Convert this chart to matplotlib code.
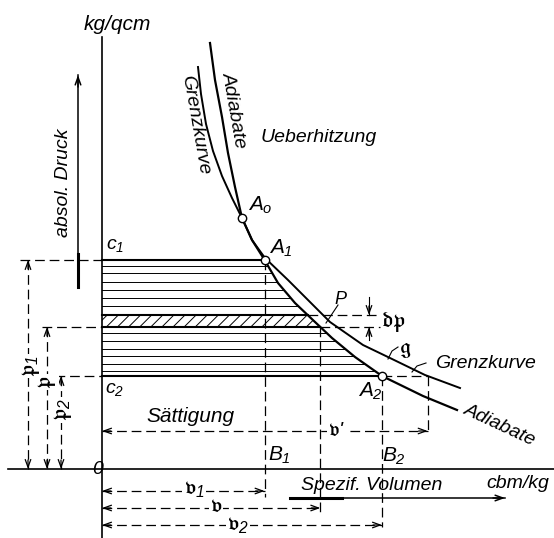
import numpy as np
import matplotlib
matplotlib.use("Agg")
import matplotlib.pyplot as plt

plt.rcParams['font.family'] = ['Liberation Sans', 'DejaVu Sans']
plt.rcParams['mathtext.fontset'] = 'custom'
plt.rcParams['mathtext.rm'] = 'Liberation Sans:italic'
plt.rcParams['mathtext.it'] = 'Liberation Sans:italic'
plt.rcParams['mathtext.fallback'] = 'stix'
plt.rcParams['lines.scale_dashes'] = False
plt.rcParams['hatch.linewidth'] = 0.7

# ---- data (spec. volume v, absolute pressure p; arbitrary drawing units) ----
adiabate_v = [108, 113, 120, 126, 133, 140, 150, 162, 176, 193, 213, 230, 253, 280, 321, 355]
adiabate_p = [426, 389, 352, 316, 282, 251, 229, 210, 186, 166, 147, 131, 112, 93, 73, 59]
grenz_v = [96, 99, 104, 111, 120, 130, 140, 150, 163, 186, 206, 228, 261, 288, 323, 358]
grenz_p = [402, 375, 345, 318, 293, 271, 251, 229, 211, 189, 169, 147, 124, 111, 94, 81]
p1, p, p2 = 209, 142, 93
dp = 12
p_A0 = 251
thin_p = [203, 196, 187, 179, 171, 163, 136, 128, 120, 113, 105, 98]


def adi_v(pp):
    return np.interp(pp, adiabate_p[::-1], adiabate_v[::-1])


def grenz_at(pp):
    return np.interp(pp, grenz_p[::-1], grenz_v[::-1])


v1, vv, v2 = adi_v(p1), adi_v(p), adi_v(p2)
vg2 = grenz_at(p2)

fig = plt.figure(figsize=(5.54, 5.38), dpi=100)
ax = fig.add_axes([0, 0, 1, 1])
ax.set_xlim(-102, 452)
ax.set_ylim(-69, 469)
ax.axis('off')

K = 'black'
DASH = (0, (7, 3.5))


def head(x, y, dx, dy, size=9, lw=0.9):
    ax.annotate('', xy=(x, y), xytext=(x - dx * size, y - dy * size),
                arrowprops=dict(arrowstyle='->,head_length=0.55,head_width=0.2',
                                lw=lw, color=K, shrinkA=0, shrinkB=0))


def dline(xs, ys, lw=0.9):
    ax.plot(xs, ys, color=K, lw=lw, ls=DASH)


# axes
ax.plot([0, 0], [-69, 432], color=K, lw=1.2)
ax.plot([-94, 452], [0, 0], color=K, lw=1.2)

# saturated region lines
for pp in thin_p:
    ax.plot([0, adi_v(pp)], [pp, pp], color=K, lw=0.7)
for pp in [p1, p2, p, p + dp]:
    ax.plot([0, adi_v(pp)], [pp, pp], color=K, lw=1.5)
ax.fill_betweenx([p, p + dp], 0, [adi_v(p), adi_v(p + dp)], hatch='///',
                 facecolor='none', edgecolor=K, lw=0)

# curves
ax.plot(adiabate_v, adiabate_p, color=K, lw=1.6, solid_joinstyle='round')
ax.plot(grenz_v, grenz_p, color=K, lw=1.4, solid_joinstyle='round')

# vertical dashed
dline([v1, v1], [p1, -28])
dline([vv, vv], [p, -44])
dline([v2, v2], [p2, -58])
dline([vg2, vg2], [p2, 37])
# horizontal dashed extension lines
dline([-82, 0], [p1, p1])
dline([-60, 0], [p, p])
dline([-47, 0], [p2, p2])
dline([adi_v(p + dp), 278], [p + dp, p + dp])
dline([vv, 278], [p, p])
dline([v2, vg2], [p2, p2])

# pressure dimensions
for x, top in [(-74, p1), (-55, p), (-41, p2)]:
    dline([x, x], [top, 0])
    head(x, top, 0, 1)
    head(x, 0, 0, -1)
# volume dimensions
for y, right in [(-22, v1), (-39, vv), (-56, v2), (38, vg2)]:
    dline([0, right], [y, y])
    head(0, y, -1, 0)
    head(right, y, 1, 0)

# dp arrows
ax.plot([267, 267], [172, p + dp], color=K, lw=0.8)
head(267, p + dp, 0, -1)
ax.plot([267, 267], [129, p], color=K, lw=0.8)
head(267, p, 0, 1)

# absol. Druck arrow
ax.plot([-24, -24], [182, 394], color=K, lw=1.1)
ax.plot([-24, -24], [182, 215], color=K, lw=2.2)
head(-24, 394, 0, 1, size=12, lw=1.1)
# Spezif. Volumen arrow
ax.plot([188, 403], [-29, -29], color=K, lw=1.1)
ax.plot([188, 240], [-29, -29], color=K, lw=2.2)
head(403, -29, 1, 0, size=12, lw=1.1)

# leaders
ax.plot([224, 236], [146, 164], color=K, lw=0.8)
ax.plot([286, 290, 296], [110, 118, 122], color=K, lw=0.8)
ax.plot([310, 315, 324], [97, 103, 106], color=K, lw=0.8)

# points
for pv, pp in [(adi_v(p_A0), p_A0), (v1, p1), (v2, p2)]:
    ax.plot(pv, pp, 'o', ms=6, mfc='white', mec=K, mew=1.0, zorder=5)

# texts
T = dict(ha='center', va='center', style='italic', color=K, rotation_mode='anchor')
W = dict(boxstyle='square,pad=0.05', fc='white', ec='none')
ax.text(15, 445, 'kg/qcm', fontsize=15, **T)
ax.text(-39, 286, 'absol. Druck', fontsize=14, rotation=90, **T)
ax.text(132, 359, 'Adiabate', fontsize=14, rotation=-80, **T)
ax.text(93, 344, 'Grenzkurve', fontsize=14, rotation=-80, **T)
ax.text(217, 331, 'Ueberhitzung', fontsize=14, **T)
ax.text(158, 264, r'$A_o$', fontsize=15, **T)
ax.text(179, 221, r'$A_1$', fontsize=15, **T)
ax.text(268, 78, r'$A_2$', fontsize=15, **T)
ax.text(13, 224, r'$c_1$', fontsize=14, **T)
ax.text(13, 79, r'$c_2$', fontsize=14, **T)
ax.text(-4, -1, '0', fontsize=14, **T)
ax.text(88, 53, 'Sättigung', fontsize=15, **T)
ax.text(235, 38, r"$\mathfrak{v}$'", fontsize=15, bbox=W, **T)
ax.text(177, 14, r'$B_1$', fontsize=15, **T)
ax.text(292, 13, r'$B_2$', fontsize=15, **T)
ax.text(270, -17, 'Spezif. Volumen', fontsize=14, **T)
ax.text(416, -14, 'cbm/kg', fontsize=14, **T)
ax.text(383, 106, 'Grenzkurve', fontsize=14, **T)
ax.text(398, 44, 'Adiabate', fontsize=14, rotation=-25, **T)
ax.text(303, 120, r'$\mathfrak{g}$', fontsize=16, **T)
ax.text(239, 169, r'$P$', fontsize=13, **T)
ax.text(291, 147, r'$\mathfrak{dp}$', fontsize=16, **T)
ax.text(-71, 103, r'$\mathfrak{p}_1$', fontsize=16, rotation=90, bbox=W, **T)
ax.text(-55, 87, r'$\mathfrak{p}$', fontsize=16, rotation=90, bbox=W, **T)
ax.text(-39, 59, r'$\mathfrak{p}_2$', fontsize=16, rotation=90, bbox=W, **T)
ax.text(92, -21, r'$\mathfrak{v}_1$', fontsize=16, bbox=W, **T)
ax.text(114, -38, r'$\mathfrak{v}$', fontsize=16, bbox=W, **T)
ax.text(136, -56, r'$\mathfrak{v}_2$', fontsize=16, bbox=W, **T)

fig.savefig('out.png', dpi=100, facecolor='white')
